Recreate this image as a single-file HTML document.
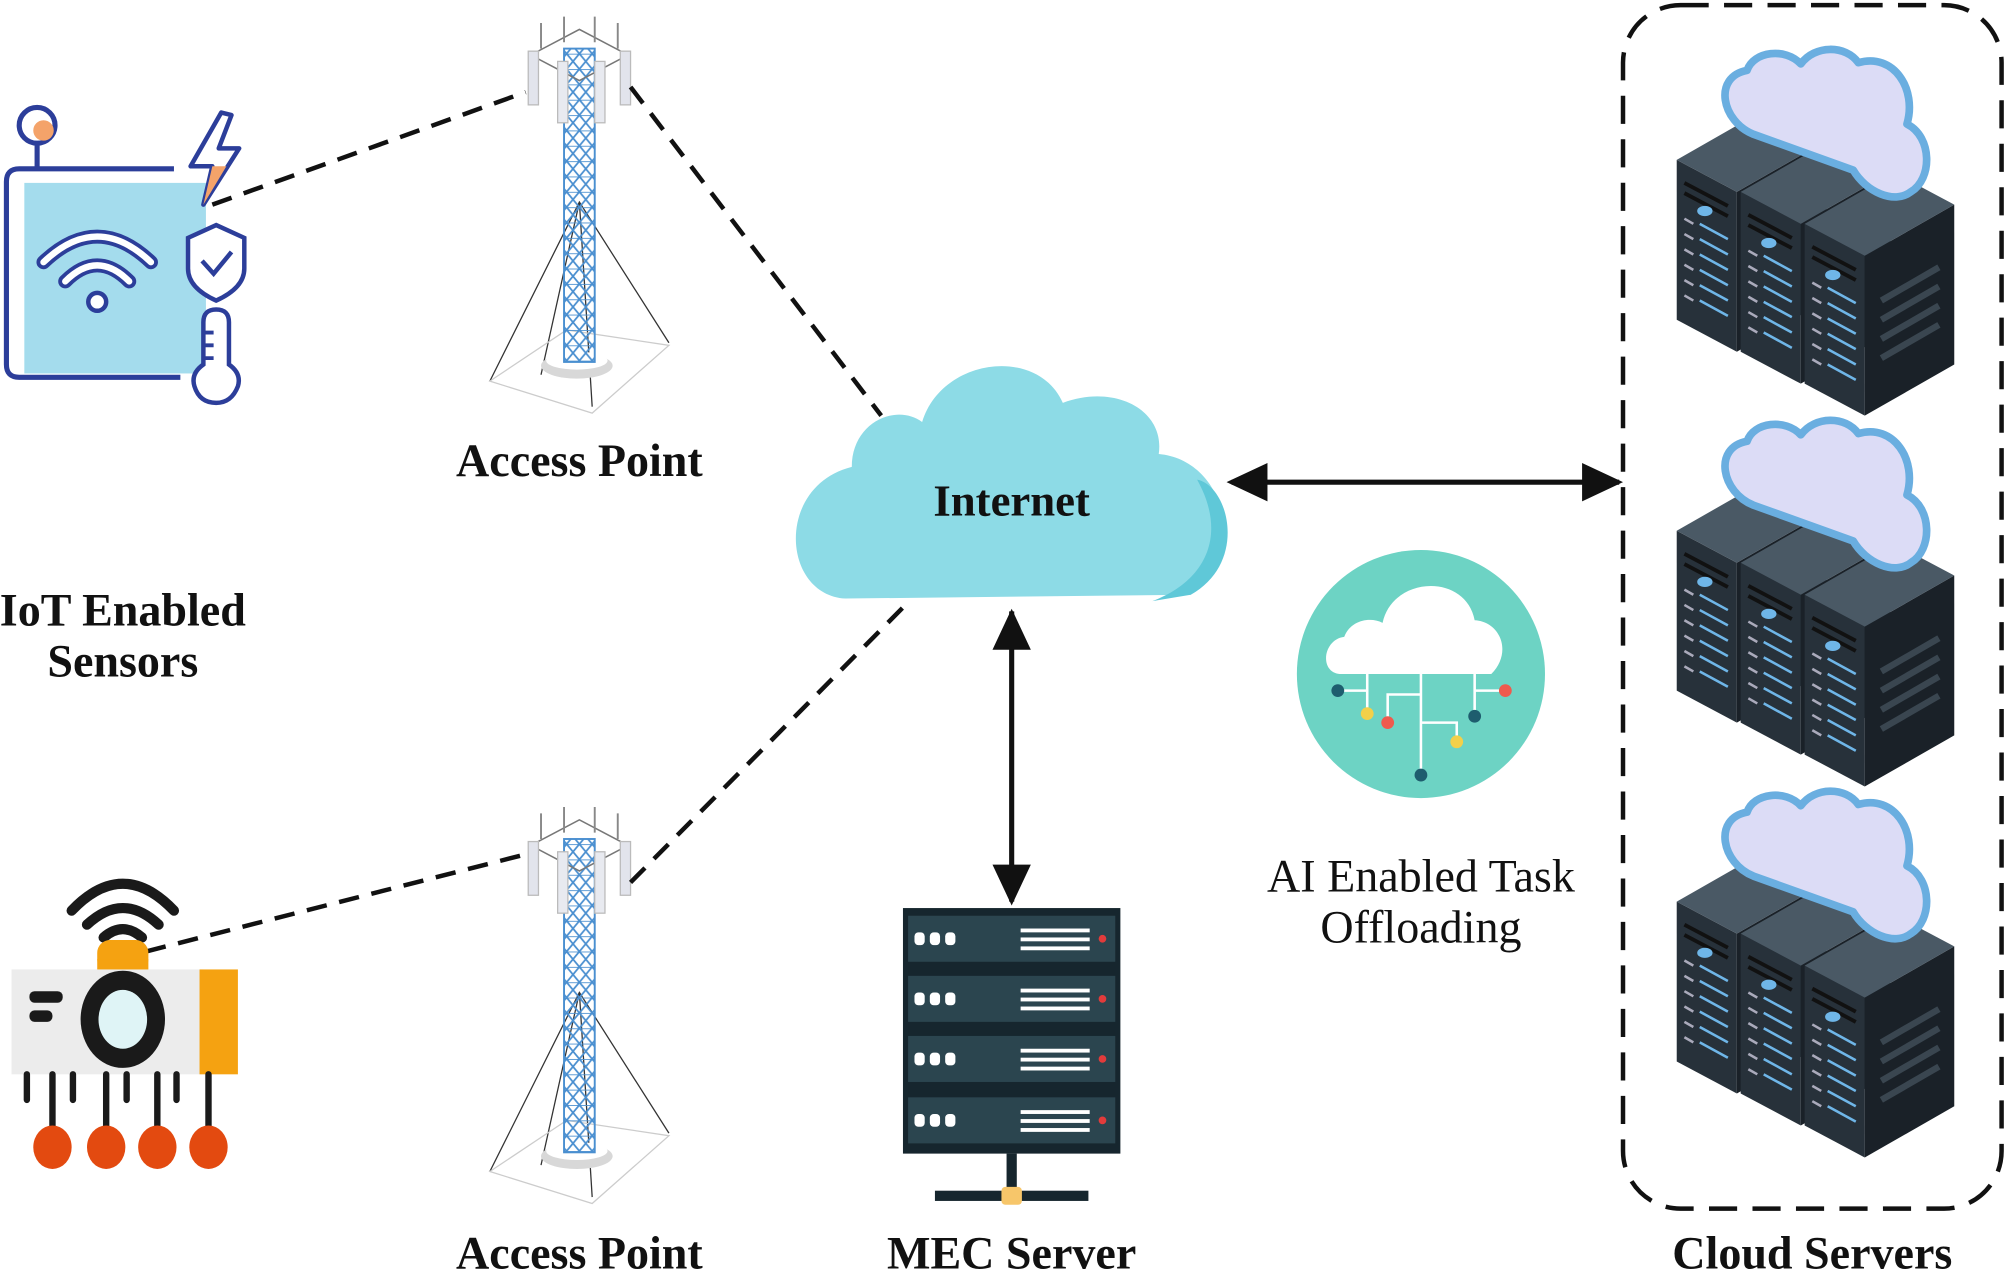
<!DOCTYPE html>
<html><head><meta charset="utf-8"><style>
html,body{margin:0;padding:0;background:#fff;}
svg{display:block;}
text{font-family:"Liberation Serif",serif;fill:#111;}
</style></head><body>
<svg width="2008" height="1270" viewBox="0 0 1568 993" xmlns="http://www.w3.org/2000/svg">
<defs>
<marker id="ah" markerWidth="10" markerHeight="10" refX="9" refY="5" orient="auto-start-reverse" markerUnits="userSpaceOnUse" viewBox="0 0 10 10">
<path d="M0,0 L10,5 L0,10 z" fill="#111"/></marker>
<pattern id="lat" width="10" height="12" patternUnits="userSpaceOnUse">
<path d="M0,0 L10,12 M10,0 L0,12 M0,0 H10" stroke="#4a8fd0" stroke-width="1.4" fill="none"/></pattern>
<g id="tower">
<path d="M-70,280 L0,140 L70,250 M-30,275 L0,140 L10,300 M0,140 L-70,280" stroke="#333" stroke-width="1" fill="none"/>
<path d="M-70,280 L10,305 L70,252 L-10,240 z" stroke="#ccc" stroke-width="1" fill="none"/>
<ellipse cx="-2" cy="268" rx="28" ry="10" fill="#d8d8d8"/>
<ellipse cx="-2" cy="264" rx="24" ry="7" fill="#fff"/>
<rect x="-12" y="20" width="24" height="245" fill="url(#lat)" stroke="#4a8fd0" stroke-width="1.5"/>
<path d="M-38,25 L0,5 L38,25 L0,45 z" stroke="#777" fill="none" stroke-width="1.2"/>
<path d="M-30,0 V20 M-12,-5 V15 M12,-5 V15 M30,0 V20" stroke="#888" stroke-width="1.5"/>
<rect x="-40" y="22" width="8" height="42" fill="#e2e4ec" stroke="#bbb"/>
<rect x="32" y="22" width="8" height="42" fill="#e2e4ec" stroke="#bbb"/>
<rect x="-17" y="30" width="8" height="48" fill="#e8eaf0" stroke="#bbb"/>
<rect x="12" y="30" width="8" height="48" fill="#e8eaf0" stroke="#bbb"/>
</g>
<g id="rack">
<polygon points="0,0 47,25 47,150 0,125" fill="#27313a"/>
<polygon points="47,25 117,-15 117,110 47,150" fill="#1a2128"/>
<polygon points="0,0 70,-40 117,-15 47,25" fill="#4a5965"/>
<g stroke="#6fb6e8" stroke-width="2">
<path d="M18,50 L40,62 M18,62 L40,74 M18,74 L40,86 M18,86 L40,98 M18,98 L40,110 M18,110 L40,122"/>
</g>
<g stroke="#aab" stroke-width="2">
<path d="M6,46 L13,50 M6,58 L13,62 M6,70 L13,74 M6,82 L13,86 M6,94 L13,98 M6,106 L13,110"/>
</g>
<path d="M6,18 L40,36 M6,26 L40,44" stroke="#111" stroke-width="3"/>
<ellipse cx="22" cy="40" rx="6" ry="4" fill="#6fb6e8"/>
</g>
<g id="stack">
<use href="#rack" x="0" y="0"/>
<use href="#rack" x="50" y="25"/>
<use href="#rack" x="100" y="50"/>
<path d="M160,110 L205,84 M160,125 L205,99 M160,140 L205,114 M160,155 L205,129" stroke="#3a4650" stroke-width="5"/>
<path d="M60,-20 C35,-30 28,-65 55,-70 C60,-85 85,-88 97,-75 C108,-90 132,-90 142,-76 C170,-84 188,-55 180,-28 C200,-18 200,15 183,25 C170,35 148,25 138,8 L60,-20z" fill="#dcdcf6" stroke="#6aaee0" stroke-width="6" stroke-linejoin="round"/>
</g>
</defs>

<!-- IoT sensor box -->
<rect x="18" y="143" width="142" height="149" fill="#a4dced"/>
<path d="M135,132 H14 Q4,132 4,142 V285 Q4,295 14,295 H140" fill="none" stroke="#2c3e9a" stroke-width="4"/>
<line x1="28" y1="112" x2="28" y2="132" stroke="#2c3e9a" stroke-width="4"/>
<circle cx="28" cy="98" r="14" fill="#fff" stroke="#2c3e9a" stroke-width="4"/>
<circle cx="33" cy="102" r="8" fill="#f4a36a"/>
<path d="M172,88 L148,130 L165,130 L158,160 L186,116 L170,116 L180,90 z" fill="#fff" stroke="#2c3e9a" stroke-width="3.5" stroke-linejoin="round"/>
<path d="M165,130 L158,160 L176,130 z" fill="#f4a36a"/>
<path d="M168,176 L190,186 V210 Q190,225 168,235 Q146,225 146,210 V186 z" fill="#fff" stroke="#2c3e9a" stroke-width="3.5"/>
<path d="M157,204 L166,214 L180,197" fill="none" stroke="#2c3e9a" stroke-width="3.5"/>
<path d="M158,285 V252 Q158,242 168,242 Q178,242 178,252 V285 Q188,292 185,302 Q180,315 168,315 Q155,315 151,302 Q148,292 158,285z" fill="#fff" stroke="#2c3e9a" stroke-width="3.5"/>
<path d="M158,260 H166 M158,270 H166 M158,280 H166" stroke="#2c3e9a" stroke-width="3"/>
<g fill="none" stroke="#2c3e9a" stroke-width="11" stroke-linecap="round"><path d="M33,205 Q75,165 117,205"/><path d="M50,220 Q75,195 100,220"/></g>
<g fill="none" stroke="#fff" stroke-width="5" stroke-linecap="round"><path d="M33,205 Q75,165 117,205"/><path d="M50,220 Q75,195 100,220"/></g>
<circle cx="75" cy="236" r="7" fill="#fff" stroke="#2c3e9a" stroke-width="3.5"/>

<!-- towers -->
<use href="#tower" x="452" y="18"/>
<use href="#tower" x="452" y="636"/>

<!-- dashed links -->
<g stroke="#111" stroke-width="3.5" stroke-dasharray="16,10" fill="none">
<line x1="165" y1="160" x2="410" y2="72"/>
<line x1="492" y1="68" x2="688" y2="325"/>
<line x1="113" y1="744" x2="410" y2="668"/>
<line x1="492" y1="690" x2="705" y2="475"/>
</g>

<!-- IoT camera device -->
<g fill="none" stroke="#1a1a1a" stroke-width="8" stroke-linecap="round">
<path d="M55,712 Q95,670 135,712"/><path d="M67,723 Q95,697 123,723"/><path d="M80,733 Q95,720 110,733"/>
</g>
<rect x="75" y="735" width="40" height="25" rx="10" fill="#f5a211"/>
<rect x="75" y="750" width="40" height="10" fill="#f5a211"/>
<rect x="8" y="758" width="150" height="82" fill="#ececec"/>
<rect x="155" y="758" width="30" height="82" fill="#f5a211"/>
<ellipse cx="95" cy="797" rx="33" ry="38" fill="#1a1a1a"/>
<ellipse cx="95" cy="797" rx="19" ry="23" fill="#dff4f6"/>
<rect x="22" y="775" width="26" height="9" rx="4" fill="#1a1a1a"/>
<rect x="22" y="790" width="18" height="9" rx="4" fill="#1a1a1a"/>
<g stroke="#1a1a1a" stroke-width="5" stroke-linecap="round">
<path d="M20,840 V860 M40,840 V885 M56,840 V860 M82,840 V885 M98,840 V860 M122,840 V885 M137,840 V860 M162,840 V885"/>
</g>
<g fill="#e34a10"><ellipse cx="40" cy="897" rx="15" ry="17"/><ellipse cx="82" cy="897" rx="15" ry="17"/><ellipse cx="122" cy="897" rx="15" ry="17"/><ellipse cx="162" cy="897" rx="15" ry="17"/></g>

<!-- internet cloud -->
<path d="M660,468 C610,465 605,380 665,365 C665,330 700,315 720,330 C735,280 810,270 830,315 C870,300 910,320 905,355 C960,360 975,440 930,465 z" fill="#8ddbe6"/>
<path d="M930,465 C975,440 960,380 935,375 C960,420 940,455 900,470 z" fill="#5fc8d8"/>
<text x="790" y="403" font-size="35" font-weight="bold" text-anchor="middle">Internet</text>

<!-- arrows -->
<line x1="962" y1="377" x2="1265" y2="377" stroke="#111" stroke-width="4"/>
<line x1="790" y1="478" x2="790" y2="705" stroke="#111" stroke-width="4"/>
<path d="M958,377 L990,362 L990,392 z M1268,377 L1236,362 L1236,392 z M790,476 L775,508 L805,508 z M790,708 L775,676 L805,676 z" fill="#111"/>

<!-- MEC server -->
<g>
<rect x="705" y="710" width="170" height="192" fill="#16262e"/>
<g fill="#2b454f">
<rect x="709" y="716" width="162" height="36"/><rect x="709" y="763" width="162" height="36"/><rect x="709" y="810" width="162" height="36"/><rect x="709" y="858" width="162" height="36"/>
</g>
<g fill="#fff">
<g id="mecrow"><rect x="714" y="729" width="8" height="10" rx="3"/><rect x="726" y="729" width="8" height="10" rx="3"/><rect x="738" y="729" width="8" height="10" rx="3"/><rect x="797" y="726" width="54" height="3"/><rect x="797" y="733" width="54" height="3"/><rect x="797" y="740" width="54" height="3"/></g>
<use href="#mecrow" y="47"/><use href="#mecrow" y="94"/><use href="#mecrow" y="142"/>
</g>
<g fill="#e23b3b"><circle cx="861" cy="734" r="3"/><circle cx="861" cy="781" r="3"/><circle cx="861" cy="828" r="3"/><circle cx="861" cy="876" r="3"/></g>
<rect x="786" y="902" width="8" height="32" fill="#16262e"/>
<rect x="730" y="931" width="120" height="8" fill="#16262e"/>
<rect x="782" y="928" width="16" height="14" rx="3" fill="#f7c66a"/>
</g>

<!-- AI circle -->
<circle cx="1110" cy="527" r="97" fill="#6dd3c4"/>
<path d="M1048,527 C1030,527 1033,500 1050,498 C1055,485 1070,482 1080,487 C1088,450 1145,448 1152,485 C1172,486 1182,510 1165,527 z" fill="#fff"/>
<g stroke="#fff" stroke-width="2" fill="none">
<path d="M1068,527 V557 M1068,540 H1045 M1110,527 V605 M1110,543 H1084 V563 M1110,565 H1138 V580 M1152,527 V560 M1152,540 H1175"/>
</g>
<g><circle cx="1045" cy="540" r="5" fill="#1e5d6e"/><circle cx="1068" cy="558" r="5" fill="#f3d04a"/><circle cx="1084" cy="565" r="5" fill="#ef5a4e"/><circle cx="1138" cy="580" r="5" fill="#f3d04a"/><circle cx="1152" cy="560" r="5" fill="#1e5d6e"/><circle cx="1176" cy="540" r="5" fill="#ef5a4e"/><circle cx="1110" cy="606" r="5" fill="#1e5d6e"/></g>

<!-- cloud servers -->
<rect x="1268" y="4" width="296" height="941" rx="45" fill="none" stroke="#111" stroke-width="3.5" stroke-dasharray="22,12"/>
<use href="#stack" x="1310" y="125"/>
<use href="#stack" x="1310" y="415"/>
<use href="#stack" x="1310" y="705"/>

<!-- labels -->
<g font-weight="bold" font-size="36" text-anchor="middle">
<text x="452" y="372">Access Point</text>
<text x="452" y="992">Access Point</text>
<text x="790" y="992">MEC Server</text>
<text x="1416" y="992">Cloud Servers</text>
<text x="95" y="489">IoT Enabled</text>
<text x="95" y="529">Sensors</text>
</g>
<g font-size="36" text-anchor="middle">
<text x="1110" y="697">AI Enabled Task</text>
<text x="1110" y="737">Offloading</text>
</g>
</svg>
</body></html>
